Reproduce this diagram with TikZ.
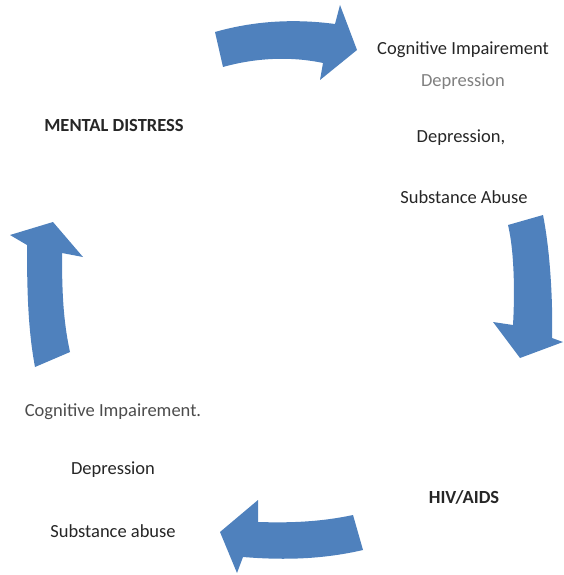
\documentclass[tikz,border=0pt]{standalone}
\usepackage{fontspec}
\setmainfont{Carlito}
\definecolor{arrowblue}{HTML}{4F81BD}
\begin{document}
\begin{tikzpicture}[x=1pt,y=-1pt,
  lbl/.style={font=\fontsize{18.5}{22}\selectfont, text=black!85, inner sep=0pt, anchor=center},
  head/.style={lbl, font=\fontsize{18.5}{22}\selectfont\bfseries},
  faint/.style={lbl, text=black!50},
  blockarrow/.style={fill=arrowblue, draw=none}]
\useasboundingbox (0,0) rectangle (564,575);

% curved block arrows of the cycle
\path[blockarrow] (215,32) .. controls (250,22) and (290,18) .. (335,24)
  -- (340,5) -- (357,50) -- (320,80) -- (323,63)
  .. controls (290,56) and (255,58) .. (223,67) -- cycle;
\path[blockarrow] (508,225) -- (543,215) .. controls (550,250) and (553,300) .. (552,338)
  -- (563,342) -- (520,358) -- (493,322) -- (513,325)
  .. controls (515,290) and (514,250) .. (508,225) -- cycle;
\path[blockarrow] (353,515) -- (363,550) .. controls (320,560) and (280,560) .. (243,557)
  -- (237,573) -- (220,532) -- (258,500) -- (258,522)
  .. controls (290,523) and (320,522) .. (353,515) -- cycle;
\path[blockarrow] (35,367) -- (70,352) .. controls (63,320) and (62,290) .. (62,253)
  -- (83,257) -- (53,222) -- (10,235) -- (27,245)
  .. controls (27,290) and (28,330) .. (35,367) -- cycle;

% labels
\node[head] (md) at (114,125) {MENTAL DISTRESS};
\node[head] (hiv) at (464,497) {HIV/AIDS};

\node[lbl] (tr1) at (463,50) {Cognitive Impairement};
\node[faint] (tr2) at (463,82) {Depression};
\node[lbl] (tr3) at (461,138) {Depression,};
\node[lbl] (tr4) at (464,197) {Substance Abuse};

\node[lbl, text=black!70] (bl1) at (113,412) {Cognitive Impairement.};
\node[lbl] (bl2) at (113,470) {Depression};
\node[lbl] (bl3) at (113,531) {Substance abuse};
\end{tikzpicture}
\end{document}
